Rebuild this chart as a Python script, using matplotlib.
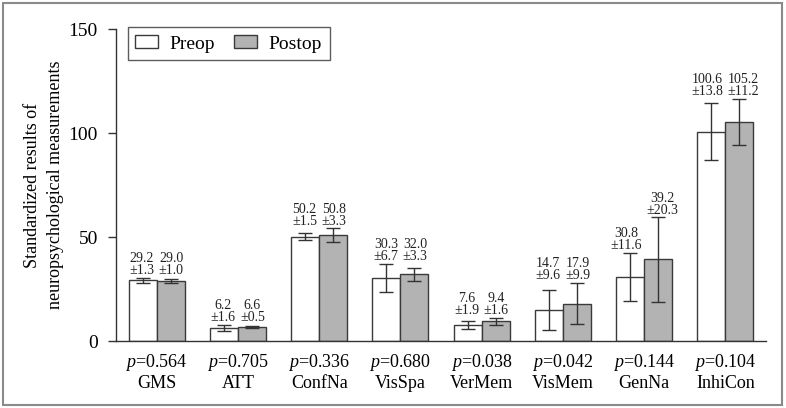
import matplotlib
matplotlib.use("Agg")
import matplotlib.pyplot as plt
from matplotlib.patches import Rectangle
import numpy as np

categories = ["GMS", "ATT", "ConfNa", "VisSpa", "VerMem", "VisMem", "GenNa", "InhiCon"]
p_values = ["0.564", "0.705", "0.336", "0.680", "0.038", "0.042", "0.144", "0.104"]
preop_mean = [29.2, 6.2, 50.2, 30.3, 7.6, 14.7, 30.8, 100.6]
preop_sd = [1.3, 1.6, 1.5, 6.7, 1.9, 9.6, 11.6, 13.8]
postop_mean = [29.0, 6.6, 50.8, 32.0, 9.4, 17.9, 39.2, 105.2]
postop_sd = [1.0, 0.5, 3.3, 3.3, 1.6, 9.9, 20.3, 11.2]
yticks = [0, 50, 100, 150]

plt.rcParams["font.family"] = ["Liberation Serif", "DejaVu Serif"]
plt.rcParams["mathtext.fontset"] = "custom"
plt.rcParams["mathtext.it"] = "Liberation Serif:italic"
plt.rcParams["mathtext.rm"] = "Liberation Serif"

fig = plt.figure(figsize=(7.86, 4.08), dpi=100)
ax = fig.add_axes([0.1476, 0.1642, 0.827, 0.7647])

x = np.arange(len(categories))
w = 0.345
edge = "#3a3a3a"
ax.bar(x - w / 2, preop_mean, w, color="white", edgecolor=edge, linewidth=1.0, label="Preop", zorder=2)
ax.bar(x + w / 2, postop_mean, w, color="#b3b3b3", edgecolor=edge, linewidth=1.0, label="Postop", zorder=2)
ax.errorbar(x - w / 2, preop_mean, yerr=preop_sd, fmt="none", ecolor="#333333", elinewidth=1.0, capsize=5, capthick=1.0, zorder=3)
ax.errorbar(x + w / 2, postop_mean, yerr=postop_sd, fmt="none", ecolor="#333333", elinewidth=1.0, capsize=5, capthick=1.0, zorder=3)

pre_top = np.array(preop_mean) + np.array(preop_sd)
post_top = np.array(postop_mean) + np.array(postop_sd)
for i in range(len(categories)):
    a, b = pre_top[i], post_top[i]
    if abs(a - b) < 5:
        a = b = max(a, b)
    for xx, yy, m, s, ha, dx in [(x[i], a, preop_mean[i], preop_sd[i], "right", -1.5),
                                  (x[i], b, postop_mean[i], postop_sd[i], "left", 1.5)]:
        ax.annotate(f"{m:.1f}\n\u00b1{s:.1f}", (xx, yy), xytext=(dx, 0.5), textcoords="offset points",
                    ha=ha, va="bottom", multialignment="center", fontsize=10, linespacing=0.9,
                    color="#222222")

ax.set_xlim(-0.5, len(categories) - 0.5)
ax.set_ylim(0, 150)
ax.set_yticks(yticks)
ax.set_xticks(x)
ax.set_xticklabels([f"$p$=" + p + "\n" + c for p, c in zip(p_values, categories)], fontsize=13, linespacing=1.15)
ax.tick_params(axis="x", length=0, pad=8)
ax.tick_params(axis="y", length=6, width=1, direction="out", labelsize=14, pad=7, color="#333333")
for s in ["top", "right"]:
    ax.spines[s].set_visible(False)
for s in ["left", "bottom"]:
    ax.spines[s].set_color("#333333")
    ax.spines[s].set_linewidth(1.0)
ax.set_ylabel("Standardized results of\nneuropsychological measurements", fontsize=13, labelpad=3, linespacing=1.5)

leg = ax.legend(loc="upper left", bbox_to_anchor=(0.018, 1.005), ncol=2, fontsize=14, frameon=True,
                fancybox=False, borderaxespad=0, handlelength=1.15, handleheight=0.65, handletextpad=0.6,
                columnspacing=1.0, borderpad=0.4)
leg.get_frame().set_edgecolor("#333333")
leg.get_frame().set_linewidth(1.0)

fig.patches.append(Rectangle((0.004, 0.008), 0.991, 0.984, transform=fig.transFigure, fill=False,
                             edgecolor="#8a8a8a", linewidth=1.5))

fig.savefig("out.png", dpi=100)
